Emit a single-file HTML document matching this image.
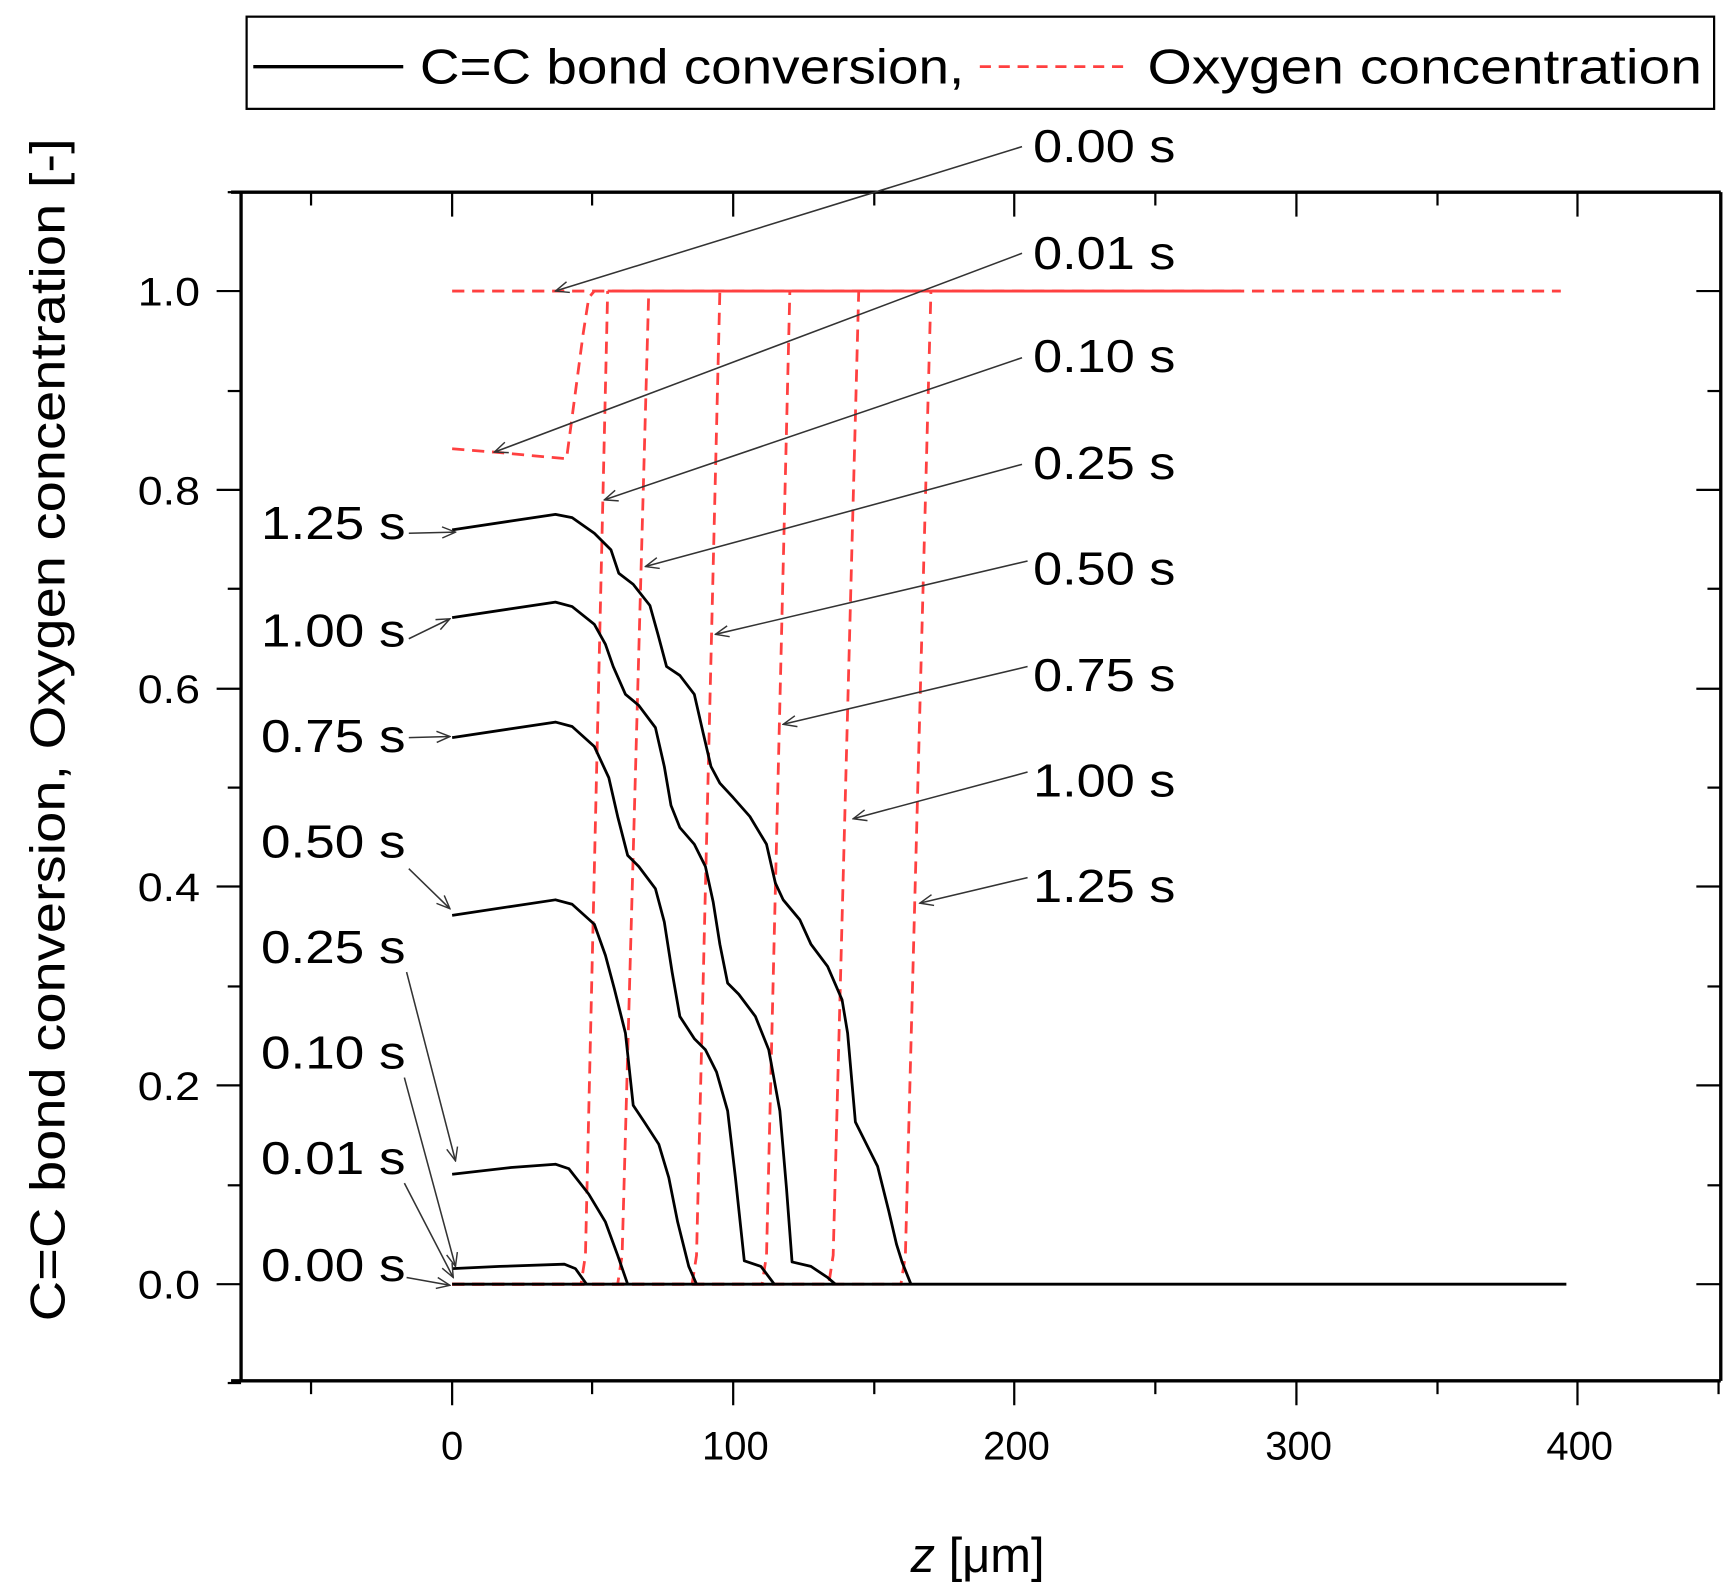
<!DOCTYPE html>
<html><head><meta charset="utf-8"><style>
html,body{margin:0;padding:0;background:#fff;}
svg{display:block;}
text{font-family:"Liberation Sans",sans-serif;fill:#000;}
</style></head><body>
<svg width="1733" height="1593" viewBox="0 0 1560 1434" preserveAspectRatio="none" xmlns="http://www.w3.org/2000/svg">
<defs>
<marker id="ah" markerWidth="14" markerHeight="12" refX="13" refY="6" orient="auto" markerUnits="userSpaceOnUse">
<path d="M1,1 L13,6 L1,11" fill="none" stroke="#333" stroke-width="1.3"/>
</marker>
</defs>
<rect x="222" y="15" width="1321" height="83" fill="#fff" stroke="#000" stroke-width="2"/>
<line x1="228" y1="60" x2="363" y2="60" stroke="#000" stroke-width="3"/>
<text x="378" y="75" font-size="44" textLength="490" lengthAdjust="spacingAndGlyphs">C=C bond conversion,</text>
<line x1="882" y1="60" x2="1018" y2="60" stroke="#ff4040" stroke-width="2.5" stroke-dasharray="10,7"/>
<text x="1033" y="75" font-size="44" textLength="499" lengthAdjust="spacingAndGlyphs">Oxygen concentration</text>

<g stroke="#000" stroke-width="3" fill="none">
<line x1="208" y1="173" x2="1549" y2="173"/>
<line x1="208" y1="1243" x2="1549" y2="1243"/>
<line x1="217" y1="173" x2="217" y2="1243"/>
<line x1="1549" y1="173" x2="1549" y2="1243"/>
</g>
<g stroke="#000" stroke-width="2">
<line x1="407" y1="1243" x2="407" y2="1265"/><line x1="660" y1="1243" x2="660" y2="1265"/><line x1="913" y1="1243" x2="913" y2="1265"/><line x1="1167" y1="1243" x2="1167" y2="1265"/><line x1="1420" y1="1243" x2="1420" y2="1265"/>
<line x1="280" y1="1243" x2="280" y2="1255"/><line x1="533" y1="1243" x2="533" y2="1255"/><line x1="787" y1="1243" x2="787" y2="1255"/><line x1="1040" y1="1243" x2="1040" y2="1255"/><line x1="1294" y1="1243" x2="1294" y2="1255"/><line x1="1547" y1="1243" x2="1547" y2="1255"/>
<line x1="407" y1="173" x2="407" y2="195"/><line x1="660" y1="173" x2="660" y2="195"/><line x1="913" y1="173" x2="913" y2="195"/><line x1="1167" y1="173" x2="1167" y2="195"/><line x1="1420" y1="173" x2="1420" y2="195"/>
<line x1="280" y1="173" x2="280" y2="185"/><line x1="533" y1="173" x2="533" y2="185"/><line x1="787" y1="173" x2="787" y2="185"/><line x1="1040" y1="173" x2="1040" y2="185"/><line x1="1294" y1="173" x2="1294" y2="185"/>
<line x1="195" y1="1156" x2="217" y2="1156"/><line x1="195" y1="977" x2="217" y2="977"/><line x1="195" y1="798" x2="217" y2="798"/><line x1="195" y1="620" x2="217" y2="620"/><line x1="195" y1="441" x2="217" y2="441"/><line x1="195" y1="262" x2="217" y2="262"/>
<line x1="205" y1="1245" x2="217" y2="1245"/><line x1="205" y1="1067" x2="217" y2="1067"/><line x1="205" y1="888" x2="217" y2="888"/><line x1="205" y1="709" x2="217" y2="709"/><line x1="205" y1="530" x2="217" y2="530"/><line x1="205" y1="352" x2="217" y2="352"/><line x1="205" y1="173" x2="217" y2="173"/>
<line x1="1527" y1="1156" x2="1549" y2="1156"/><line x1="1527" y1="977" x2="1549" y2="977"/><line x1="1527" y1="798" x2="1549" y2="798"/><line x1="1527" y1="620" x2="1549" y2="620"/><line x1="1527" y1="441" x2="1549" y2="441"/><line x1="1527" y1="262" x2="1549" y2="262"/>
<line x1="1537" y1="1067" x2="1549" y2="1067"/><line x1="1537" y1="888" x2="1549" y2="888"/><line x1="1537" y1="709" x2="1549" y2="709"/><line x1="1537" y1="530" x2="1549" y2="530"/><line x1="1537" y1="352" x2="1549" y2="352"/>
</g>
<g font-size="36">
<text x="124" y="1169" textLength="56" lengthAdjust="spacingAndGlyphs">0.0</text>
<text x="124" y="990" textLength="56" lengthAdjust="spacingAndGlyphs">0.2</text>
<text x="124" y="811" textLength="56" lengthAdjust="spacingAndGlyphs">0.4</text>
<text x="124" y="633" textLength="56" lengthAdjust="spacingAndGlyphs">0.6</text>
<text x="124" y="454" textLength="56" lengthAdjust="spacingAndGlyphs">0.8</text>
<text x="124" y="275" textLength="56" lengthAdjust="spacingAndGlyphs">1.0</text>
</g>
<g font-size="36" text-anchor="middle">
<text x="407" y="1314">0</text><text x="662" y="1314">100</text><text x="915" y="1314">200</text><text x="1169" y="1314">300</text><text x="1422" y="1314">400</text>
</g>
<text x="880" y="1415" font-size="44" text-anchor="middle"><tspan font-style="italic">z</tspan> [μm]</text>
<text transform="translate(58,657) rotate(-90)" font-size="44" text-anchor="middle" textLength="1065" lengthAdjust="spacingAndGlyphs">C=C bond conversion, Oxygen concentration [-]</text>

<g stroke="#ff4040" stroke-width="2.5" fill="none" stroke-dasharray="11,7">
<polyline points="407,262 1405,262"/>
<polyline points="407,404 445,407 510,413 525,300 530,268 535,262"/>
<polyline points="407,1156 523,1156 527,1130 547,262"/>
<polyline points="407,1156 556,1156 560,1130 584,262"/>
<polyline points="407,1156 623,1156 627,1130 648,262"/>
<polyline points="407,1156 686,1156 690,1130 711,262"/>
<polyline points="407,1156 746,1156 750,1130 773,262"/>
<polyline points="407,1156 811,1156 815,1130 838,262"/>
</g>
<line x1="547" y1="262" x2="1117" y2="262" stroke="#ff4040" stroke-width="2.5"/>

<g stroke="#000" stroke-width="2.5" fill="none" stroke-linejoin="round">
<polyline points="407,1156 1410,1156"/>
<polyline points="407,1142 450,1140 508,1138 518,1142 528,1156"/>
<polyline points="407,1057 460,1051 500,1048 512,1052 530,1075 545,1100 556,1130 565,1156"/>
<polyline points="407,824 460,816 500,810 515,814 535,832 545,860 553,890 563,930 570,995 580,1010 593,1030 602,1060 610,1100 620,1140 627,1156"/>
<polyline points="407,664 460,656 500,650 515,654 535,672 548,700 556,735 565,770 575,780 590,800 598,830 605,875 612,915 625,935 635,945 645,965 655,1000 662,1060 670,1135 685,1140 697,1156"/>
<polyline points="407,556 460,548 500,542 515,546 535,562 545,580 552,600 563,625 575,635 590,655 598,690 604,725 612,745 625,760 635,780 642,812 648,850 655,885 665,895 680,915 692,945 702,1000 708,1070 713,1136 730,1140 745,1150 752,1156"/>
<polyline points="407,477 460,469 500,463 515,466 535,480 550,495 557,516 570,526 585,545 592,570 600,600 612,608 625,625 633,660 640,690 648,705 660,718 675,735 690,760 698,795 705,810 720,828 730,850 745,870 758,900 763,930 770,1010 780,1030 790,1050 800,1090 807,1120 812,1136 820,1156"/>
</g>

<g font-size="42">
<text x="930" y="146" textLength="128" lengthAdjust="spacingAndGlyphs">0.00 s</text>
<text x="930" y="242" textLength="128" lengthAdjust="spacingAndGlyphs">0.01 s</text>
<text x="930" y="335" textLength="128" lengthAdjust="spacingAndGlyphs">0.10 s</text>
<text x="930" y="431" textLength="128" lengthAdjust="spacingAndGlyphs">0.25 s</text>
<text x="930" y="526" textLength="128" lengthAdjust="spacingAndGlyphs">0.50 s</text>
<text x="930" y="622" textLength="128" lengthAdjust="spacingAndGlyphs">0.75 s</text>
<text x="930" y="717" textLength="128" lengthAdjust="spacingAndGlyphs">1.00 s</text>
<text x="930" y="812" textLength="128" lengthAdjust="spacingAndGlyphs">1.25 s</text>
<text x="235" y="485" textLength="130" lengthAdjust="spacingAndGlyphs">1.25 s</text>
<text x="235" y="582" textLength="130" lengthAdjust="spacingAndGlyphs">1.00 s</text>
<text x="235" y="677" textLength="130" lengthAdjust="spacingAndGlyphs">0.75 s</text>
<text x="235" y="772" textLength="130" lengthAdjust="spacingAndGlyphs">0.50 s</text>
<text x="235" y="867" textLength="130" lengthAdjust="spacingAndGlyphs">0.25 s</text>
<text x="235" y="962" textLength="130" lengthAdjust="spacingAndGlyphs">0.10 s</text>
<text x="235" y="1057" textLength="130" lengthAdjust="spacingAndGlyphs">0.01 s</text>
<text x="235" y="1153" textLength="130" lengthAdjust="spacingAndGlyphs">0.00 s</text>
</g>
<g stroke="#333" stroke-width="1.4" fill="none" marker-end="url(#ah)">
<line x1="920" y1="132" x2="500" y2="262"/>
<line x1="920" y1="228" x2="445" y2="407"/>
<line x1="920" y1="322" x2="544" y2="450"/>
<line x1="920" y1="418" x2="581" y2="510"/>
<line x1="925" y1="505" x2="644" y2="571"/>
<line x1="925" y1="600" x2="705" y2="652"/>
<line x1="925" y1="695" x2="768" y2="737"/>
<line x1="925" y1="790" x2="828" y2="813"/>
<line x1="368" y1="480" x2="410" y2="479"/>
<line x1="368" y1="575" x2="405" y2="557"/>
<line x1="368" y1="664" x2="405" y2="663"/>
<line x1="368" y1="782" x2="405" y2="818"/>
<line x1="366" y1="875" x2="410" y2="1045"/>
<line x1="364" y1="970" x2="410" y2="1140"/>
<line x1="364" y1="1065" x2="408" y2="1150"/>
<line x1="366" y1="1150" x2="405" y2="1157"/>
</g>
</svg>
</body></html>
